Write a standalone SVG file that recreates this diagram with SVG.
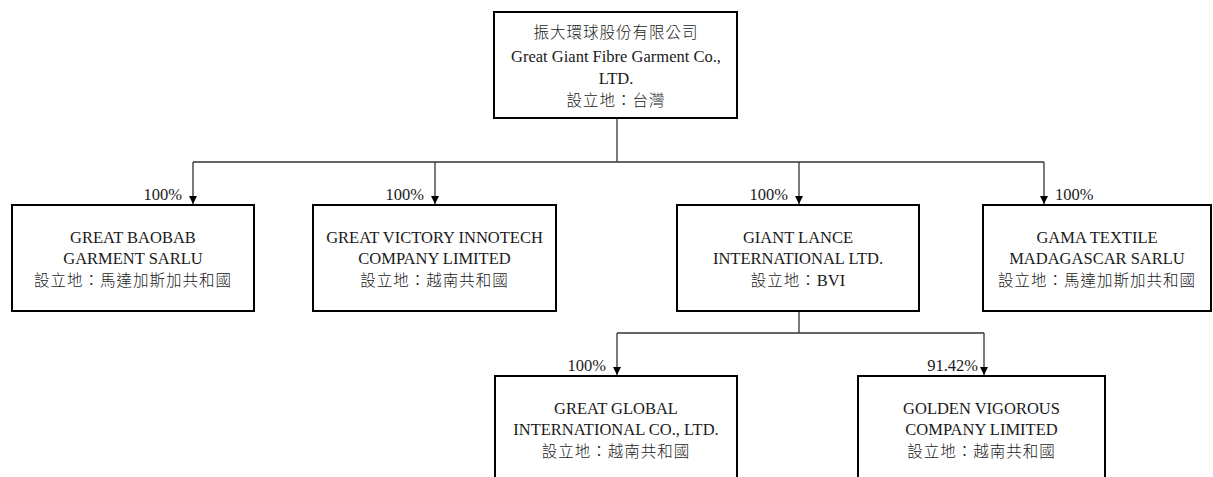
<svg xmlns="http://www.w3.org/2000/svg" width="1213" height="477" viewBox="0 0 1213 477">
<defs>
<style>
.box{fill:#fff;stroke:#000;stroke-width:2}
.t{font-family:"Liberation Serif","Noto Sans CJK TC",serif;font-size:16.5px;fill:#1a1a1a;text-anchor:middle}
.c{font-family:"Noto Sans CJK TC","Liberation Serif",serif;font-size:15.5px;letter-spacing:1px;fill:#1a1a1a;text-anchor:middle;font-weight:300}
.l{font-family:"Liberation Serif",serif;font-size:16.5px;letter-spacing:0}
.p{font-family:"Liberation Serif",serif;font-size:16.5px;fill:#1a1a1a}
.ln{fill:none;stroke:#333;stroke-width:1.3}
</style>
<marker id="ah" viewBox="0 0 10 10" refX="10" refY="5" markerWidth="8" markerHeight="8" markerUnits="userSpaceOnUse" orient="auto">
<path d="M0,0 L10,5 L0,10 z" fill="#000"/>
</marker>
</defs>
<rect width="1213" height="477" fill="#fff"/>
<g id="connectors">
<path class="ln" d="M617,119 V162"/>
<path class="ln" d="M193,162 H1044"/>
<path class="ln" d="M193,162 V204" marker-end="url(#ah)"/>
<path class="ln" d="M435,162 V204" marker-end="url(#ah)"/>
<path class="ln" d="M799,162 V204" marker-end="url(#ah)"/>
<path class="ln" d="M1044,162 V204" marker-end="url(#ah)"/>
<path class="ln" d="M799,312 V333"/>
<path class="ln" d="M617,333 H984"/>
<path class="ln" d="M617,333 V375" marker-end="url(#ah)"/>
<path class="ln" d="M984,333 V375" marker-end="url(#ah)"/>
<text class="p" x="182" y="200" text-anchor="end">100%</text>
<text class="p" x="424" y="200" text-anchor="end">100%</text>
<text class="p" x="788" y="200" text-anchor="end">100%</text>
<text class="p" x="1055" y="200">100%</text>
<text class="p" x="606" y="371" text-anchor="end">100%</text>
<text class="p" x="978" y="371" text-anchor="end">91.42%</text>
</g>
<g id="n0">
<rect class="box" x="494" y="12" width="243" height="106"/>
<text class="c" x="616" y="38">振大環球股份有限公司</text>
<text class="t" x="616" y="62">Great Giant Fibre Garment Co.,</text>
<text class="t" x="616" y="84">LTD.</text>
<text class="c" x="616" y="106">設立地：台灣</text>
</g>
<g id="n1">
<rect class="box" x="12" y="205" width="242" height="106"/>
<text class="t" x="133" y="243">GREAT BAOBAB</text>
<text class="t" x="133" y="264">GARMENT SARLU</text>
<text class="c" x="133" y="286">設立地：馬達加斯加共和國</text>
</g>
<g id="n2">
<rect class="box" x="313" y="205" width="243" height="106"/>
<text class="t" x="434.5" y="243">GREAT VICTORY INNOTECH</text>
<text class="t" x="434.5" y="264">COMPANY LIMITED</text>
<text class="c" x="434.5" y="286">設立地：越南共和國</text>
</g>
<g id="n3">
<rect class="box" x="677" y="205" width="242" height="106"/>
<text class="t" x="798" y="243">GIANT LANCE</text>
<text class="t" x="798" y="264">INTERNATIONAL LTD.</text>
<text class="c" x="798" y="286">設立地：<tspan class="l">BVI</tspan></text>
</g>
<g id="n4">
<rect class="box" x="983" y="205" width="228" height="106"/>
<text class="t" x="1097" y="243">GAMA TEXTILE</text>
<text class="t" x="1097" y="264">MADAGASCAR SARLU</text>
<text class="c" x="1097" y="286">設立地：馬達加斯加共和國</text>
</g>
<g id="n5">
<rect class="box" x="495" y="376" width="242" height="110"/>
<text class="t" x="616" y="414">GREAT GLOBAL</text>
<text class="t" x="616" y="435">INTERNATIONAL CO., LTD.</text>
<text class="c" x="616" y="457">設立地：越南共和國</text>
</g>
<g id="n6">
<rect class="box" x="858" y="376" width="247" height="110"/>
<text class="t" x="981.5" y="414">GOLDEN VIGOROUS</text>
<text class="t" x="981.5" y="435">COMPANY LIMITED</text>
<text class="c" x="981.5" y="457">設立地：越南共和國</text>
</g>
</svg>
